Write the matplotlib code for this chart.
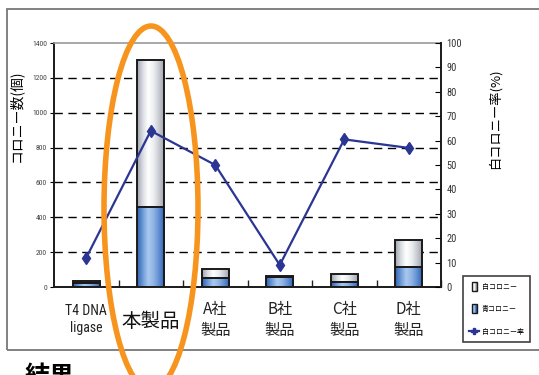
import matplotlib
matplotlib.use('Agg')
import matplotlib.pyplot as plt
import matplotlib.patches as mpatches
from matplotlib import font_manager
from matplotlib.legend_handler import HandlerBase
from matplotlib.lines import Line2D
import numpy as np

plt.rcParams['font.family'] = ['Noto Sans CJK JP', 'DejaVu Sans']

# colony counts per product
categories = ['T4 DNA\nligase', '本製品', 'A社\n製品', 'B社\n製品', 'C社\n製品', 'D社\n製品']
blue_colonies = [25, 460, 50, 55, 30, 115]
white_colonies = [7, 840, 55, 7, 45, 155]
white_rate = [12, 64, 50, 9, 60.5, 57]  # %

# narrow face for the numbers if one is around
installed = {f.name for f in font_manager.fontManager.ttflist}
NARROW = [n for n in ['Liberation Sans Narrow', 'DejaVu Sans Condensed', 'Roboto Condensed']
          if n in installed] + ['DejaVu Sans']

W, H = 539, 375


def fx(px):
    return px / W


def fy(py):
    return 1 - py / H


WHITE_GRAD = ['#9fa4ad', '#d8dbe0', '#ffffff', '#eceef1', '#c7cad0', '#9a9ea8']
BLUE_GRAD = ['#2f62b3', '#6c9ad6', '#a9c8ee', '#8fb4e4', '#5e8dd0', '#2d5faf']


def grad_cmap(colors):
    return matplotlib.colors.LinearSegmentedColormap.from_list('g', colors)


def gradient_bar(ax, x, bottom, height, width, colors):
    rect = mpatches.Rectangle((x - width / 2, bottom), width, height,
                              facecolor='none', edgecolor='#1a1a1a', lw=1.4, zorder=4)
    ax.add_patch(rect)
    img = ax.imshow(np.linspace(0, 1, 64).reshape(1, -1), cmap=grad_cmap(colors),
                    extent=(x - width / 2, x + width / 2, bottom, bottom + height),
                    aspect='auto', zorder=3, interpolation='bilinear')
    img.set_clip_path(rect)


class GradHandler(HandlerBase):
    def __init__(self, colors):
        super().__init__()
        self.colors = colors

    def create_artists(self, legend, orig_handle, xdescent, ydescent, width, height, fontsize, trans):
        w = height * 1.0
        x0 = -xdescent + (width - w) / 2
        y0 = -ydescent - height * 0.45
        h = height * 1.9
        cm = grad_cmap(self.colors)
        arts = []
        n = 12
        for i in range(n):
            arts.append(mpatches.Rectangle((x0 + i * w / n, y0), w / n + 0.2, h,
                                           facecolor=cm(i / (n - 1)), edgecolor='none', transform=trans))
        arts.append(mpatches.Rectangle((x0, y0), w, h, facecolor='none',
                                       edgecolor='#1a1a1a', lw=1.0, transform=trans))
        return arts


fig = plt.figure(figsize=(W / 100, H / 100), dpi=100)
ax = fig.add_axes([fx(54), fy(287), fx(441) - fx(54), fy(43) - fy(287)])

x = np.arange(len(categories))
bw = 0.42
for i in x:
    gradient_bar(ax, i, 0, blue_colonies[i], bw, BLUE_GRAD)
    gradient_bar(ax, i, blue_colonies[i], white_colonies[i], bw, WHITE_GRAD)

ax.set_xlim(-0.5, len(categories) - 0.5)
ax.set_ylim(0, 1400)
ax.set_yticks(range(0, 1401, 200))
for yv in range(200, 1400, 200):
    ax.axhline(yv, color='black', lw=1.0, ls=(0, (6, 4)), zorder=1)

ax.set_xticks(x + 0.5, minor=True)
ax.set_xticks(x)
ax.set_xticklabels([])
ax.tick_params(axis='x', which='major', length=0)
ax.tick_params(axis='x', which='minor', direction='in', length=5, width=1, color='#222')
ax.tick_params(axis='y', direction='out', length=3, width=0.8, labelsize=5.5, labelcolor='#444', pad=2)
for lab in ax.get_yticklabels():
    lab.set_family(NARROW)

for side in ['left', 'bottom']:
    ax.spines[side].set_color('#1a1a1a')
    ax.spines[side].set_linewidth(1.4)
ax.spines['top'].set_color('#9a9a9a')
ax.spines['top'].set_linewidth(1.2)
ax.spines['right'].set_visible(False)

# category labels under the axis
for i, lab in enumerate(categories):
    if i == 0:
        ax.text(i, -100, lab, ha='center', va='top', fontsize=10, family=NARROW,
                linespacing=1.25, color='#222')
    elif i == 1:
        ax.text(i, -140, lab, ha='center', va='top', fontsize=14, color='#111')
    else:
        ax.text(i, -80, lab, ha='center', va='top', fontsize=11, linespacing=1.3, color='#222')

ax.set_ylabel('コロニー数(個)', fontsize=10)
ax.yaxis.set_label_coords((23 - 54) / (441 - 54), 0.70)

ax2 = ax.twinx()
ax2.set_ylim(0, 100)
ax2.set_yticks(range(0, 101, 10))
ax2.tick_params(axis='y', direction='in', length=4, width=0.8, labelsize=7.5, labelcolor='#333', pad=4)
for lab in ax2.get_yticklabels():
    lab.set_family(NARROW)
for side in ['left', 'top', 'bottom']:
    ax2.spines[side].set_visible(False)
ax2.spines['right'].set_color('#1a1a1a')
ax2.spines['right'].set_linewidth(1.4)
ax2.plot(x, white_rate, color='#2b3593', lw=1.6, marker='d', markersize=6,
         markerfacecolor='#2b3593', markeredgecolor='#2b3593', zorder=6)
ax2.set_ylabel('白コロニー率(%)', fontsize=9.5)
ax2.yaxis.set_label_coords((488 - 54) / (441 - 54), 0.69)

# outer frame
frame = mpatches.Rectangle((fx(7), fy(350)), 1.2, fy(9) - fy(350), transform=fig.transFigure,
                           facecolor='none', edgecolor='#777', lw=1.3, clip_on=False)
fig.add_artist(frame)

# highlight ring around 本製品
ring = mpatches.Ellipse((fx(151), fy(208)), 94 / W, 364 / H, transform=fig.transFigure,
                        facecolor='none', edgecolor='#f7941d', lw=4, zorder=10)
fig.add_artist(ring)

fig.text(fx(25), fy(365), '結果', fontsize=18, fontweight='bold', va='top', ha='left')

handles = [mpatches.Patch(), mpatches.Patch(),
           Line2D([], [], color='#2b3593', lw=1.6, marker='P', markersize=5)]
leg = fig.legend(handles, ['白コロニー', '青コロニー', '白コロニー率'],
                 loc='lower left', bbox_to_anchor=(fx(463), fy(342)),
                 handler_map={handles[0]: GradHandler(WHITE_GRAD), handles[1]: GradHandler(BLUE_GRAD)},
                 fontsize=5, frameon=True, fancybox=False, edgecolor='#111',
                 handlelength=1.4, handletextpad=0.4, labelspacing=2.1, borderpad=0.9,
                 borderaxespad=0)
leg.get_frame().set_linewidth(1.2)

fig.savefig('out.png', dpi=100)
plt.close()
